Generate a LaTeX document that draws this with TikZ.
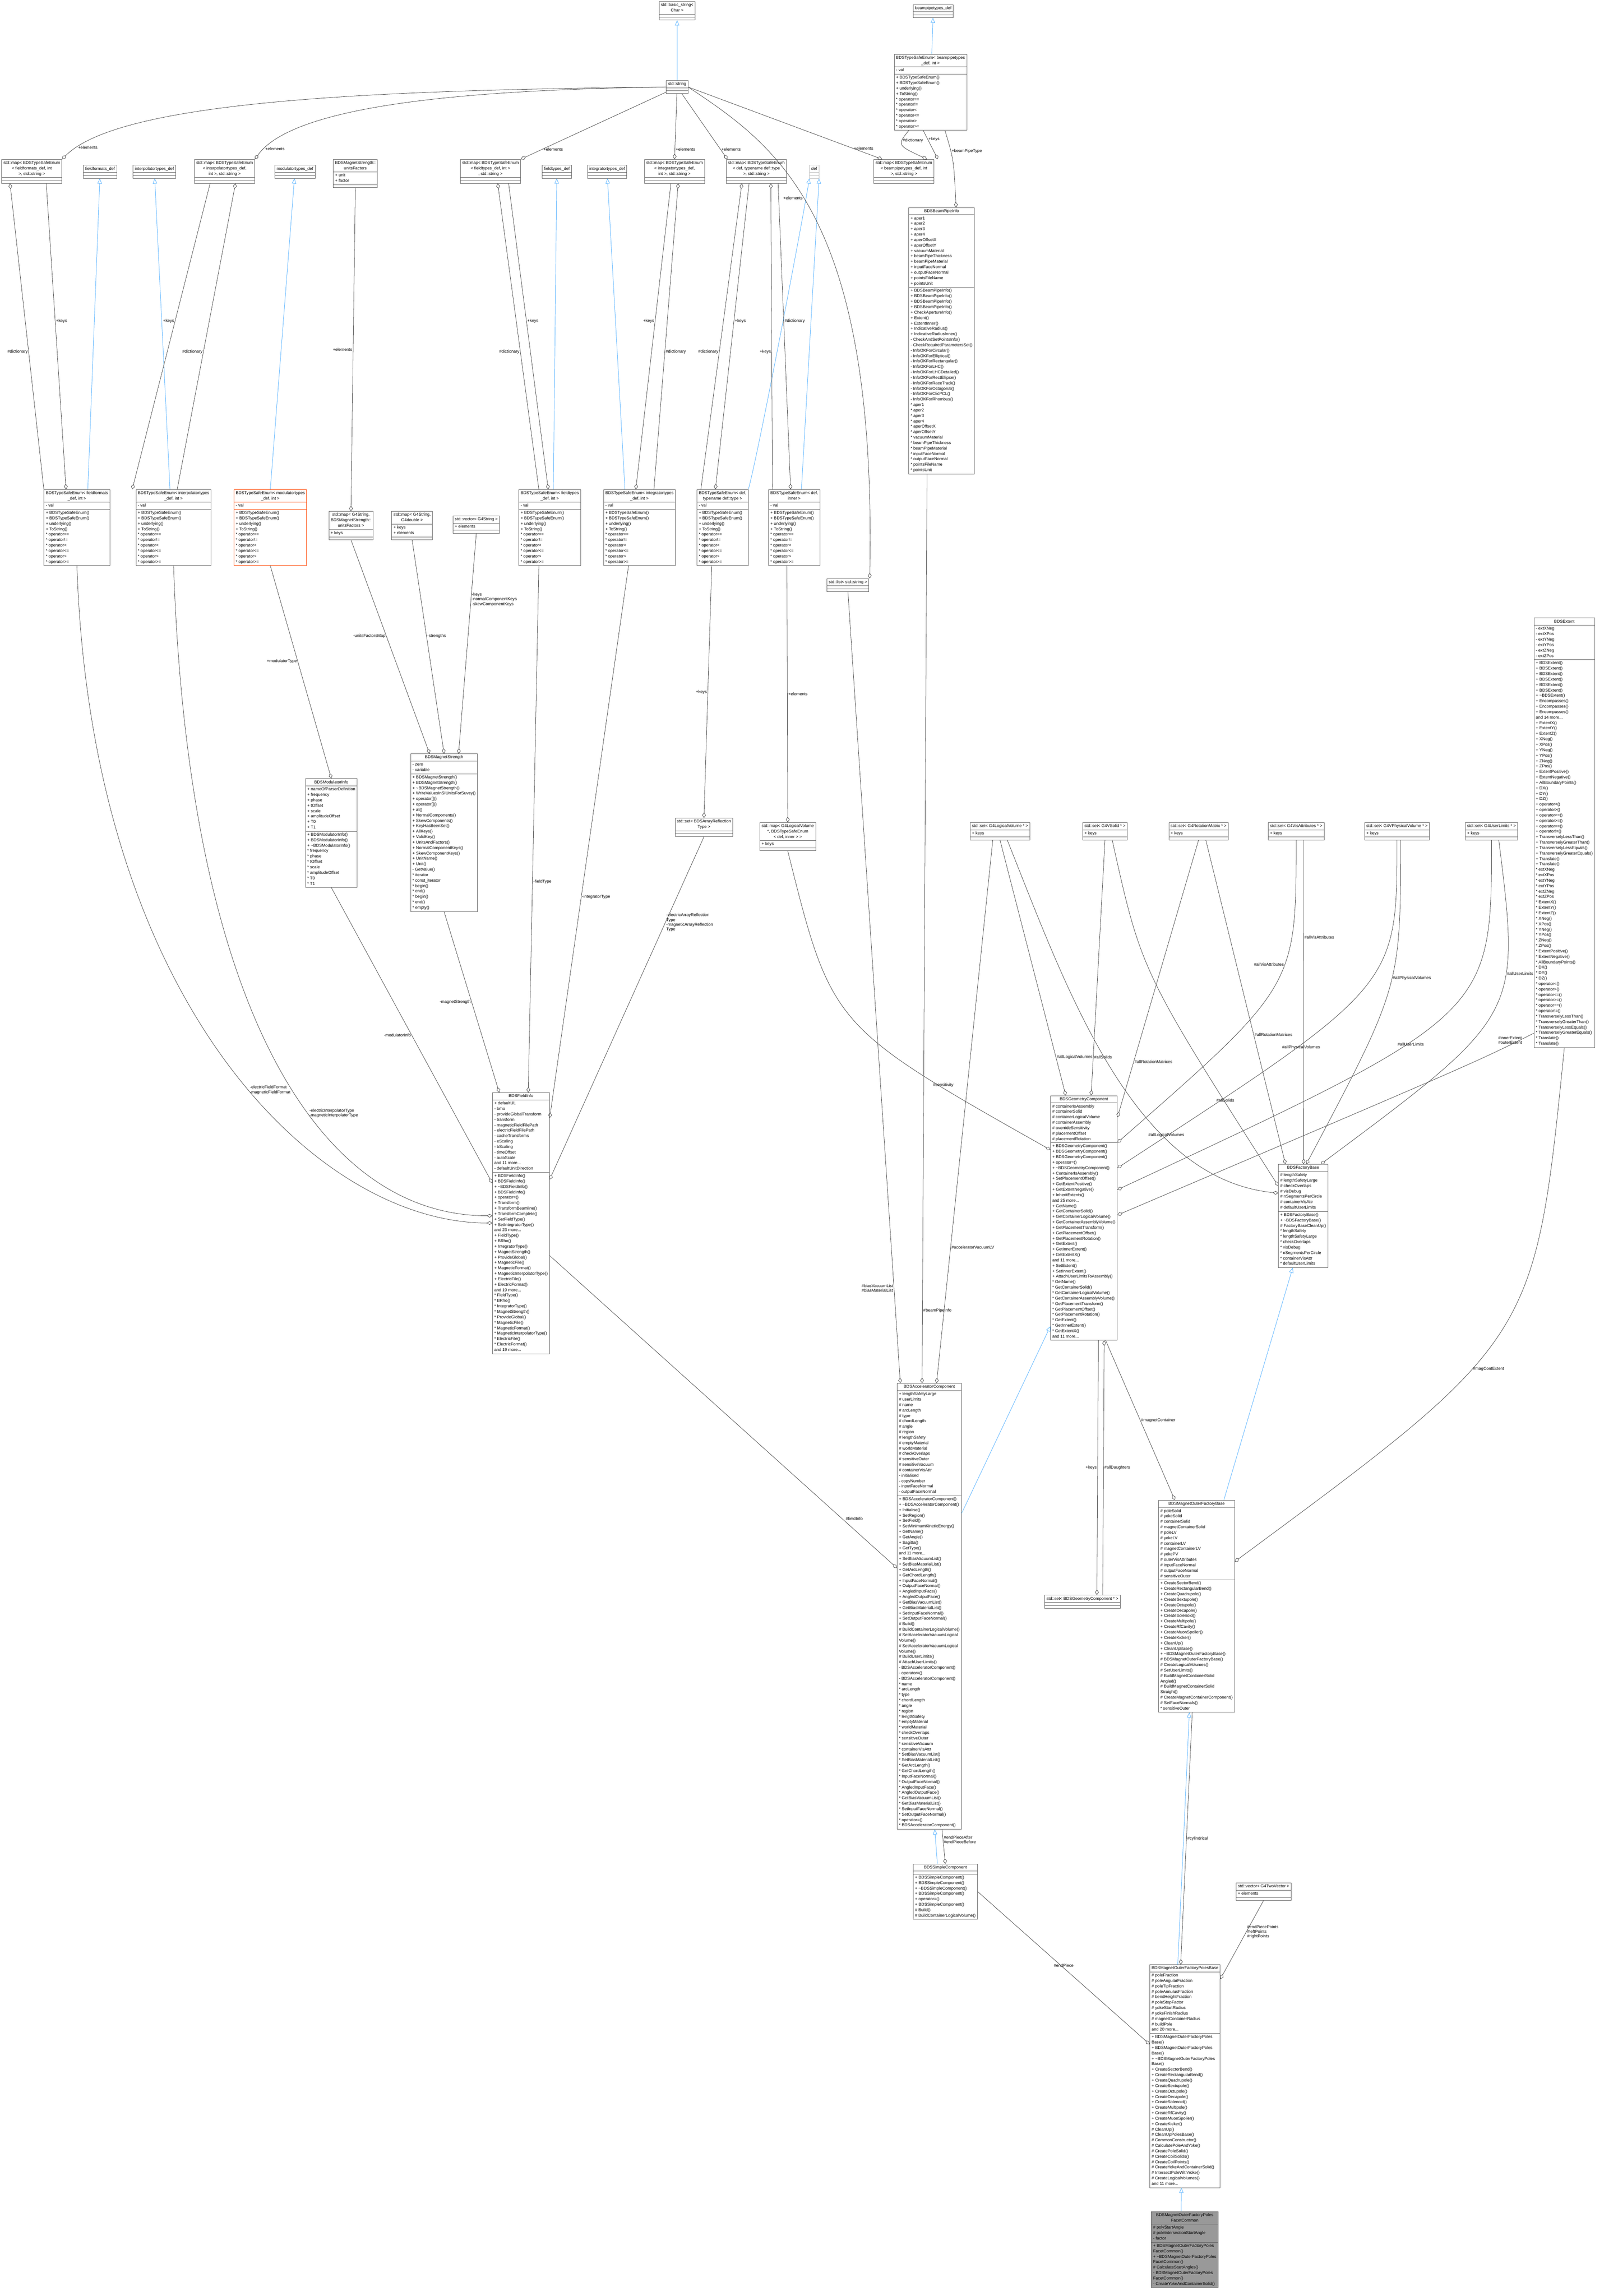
\documentclass[tikz,border=0pt]{standalone}
\usepackage{fontspec}
\setmainfont{Liberation Sans}
\usetikzlibrary{shapes.multipart,arrows.meta}
\definecolor{edgec}{HTML}{404040}
\definecolor{blu}{HTML}{63B8FF}
\definecolor{bord}{HTML}{666666}
\definecolor{redb}{HTML}{FF4500}
\definecolor{grayf}{HTML}{999999}
\definecolor{lgray}{HTML}{BFBFBF}
\newcommand\ctab[1]{\begin{tabular}{@{}c@{}}#1\end{tabular}}
\newcommand\ltab[1]{\begin{tabular}{@{}l@{}}#1\end{tabular}}
\newcommand\tld{\textasciitilde}
\newcommand\sx{\relax*}
\newcommand\tsem{+ BDSTypeSafeEnum()\\+ BDSTypeSafeEnum()\\+ underlying()\\+ ToString()\\\sx{} operator==\\\sx{} operator!=\\\sx{} operator<\\\sx{} operator<=\\\sx{} operator>\\\sx{} operator>=}
\tikzset{
 umlcls/.style={draw=bord, line width=1pt, fill=white, rectangle split, rectangle split parts=3,
   rectangle split part align={center,left,left}, inner xsep=5pt, inner ysep=2pt,
   font=\fontsize{11.5}{15}\selectfont},
 agg/.style={draw=edgec, line width=1pt, -{Diamond[open,length=15pt,width=10pt]}},
 inh/.style={draw=blu, line width=1.2pt, -{Triangle[open,length=14pt,width=12pt]}},
 lbl/.style={font=\fontsize{11.5}{13}\selectfont, align=left, inner sep=2pt, text=black}
}
\newcommand\umlbox[6][]{\node[umlcls,anchor=north west,#1] (#2) at (#3) {\ctab{#4}\nodepart{two}\ltab{#5}\nodepart{three}\ltab{#6}};}
\begin{document}
\begin{tikzpicture}[x=4.03pt,y=-4.03pt]
\useasboundingbox[fill=white] (0,0) rectangle (1107.44,1571.96);
% ---------- top
\umlbox{bstr}{451,1}{std::basic\_string\textless\\Char \textgreater}{}{}
\umlbox{str}{456,55}{std::string}{}{}
\umlbox{bptdef}{625,3}{beampipetypes\_def}{}{}
\umlbox{tseBP}{612,37}{BDSTypeSafeEnum< beampipetypes\\\_def, int >}{- val}{\tsem}
\umlbox{mapBP}{598,109}{std::map< BDSTypeSafeEnum\\< beampipetypes\_def, int\\ >, std::string >}{}{}
\umlbox{bpi}{622,142}{BDSBeamPipeInfo}{+ aper1\\+ aper2\\+ aper3\\+ aper4\\+ aperOffsetX\\+ aperOffsetY\\+ vacuumMaterial\\+ beamPipeThickness\\+ beamPipeMaterial\\+ inputFaceNormal\\+ outputFaceNormal\\+ pointsFileName\\+ pointsUnit}{+ BDSBeamPipeInfo()\\+ BDSBeamPipeInfo()\\+ BDSBeamPipeInfo()\\+ BDSBeamPipeInfo()\\+ CheckApertureInfo()\\+ Extent()\\+ ExtentInner()\\+ IndicativeRadius()\\+ IndicativeRadiusInner()\\- CheckAndSetPointsInfo()\\- CheckRequiredParametersSet()\\- InfoOKForCircular()\\- InfoOKForElliptical()\\- InfoOKForRectangular()\\- InfoOKForLHC()\\- InfoOKForLHCDetailed()\\- InfoOKForRectEllipse()\\- InfoOKForRaceTrack()\\- InfoOKForOctagonal()\\- InfoOKForClicPCL()\\- InfoOKForRhombus()\\\sx{} aper1\\\sx{} aper2\\\sx{} aper3\\\sx{} aper4\\\sx{} aperOffsetX\\\sx{} aperOffsetY\\\sx{} vacuumMaterial\\\sx{} beamPipeThickness\\\sx{} beamPipeMaterial\\\sx{} inputFaceNormal\\\sx{} outputFaceNormal\\\sx{} pointsFileName\\\sx{} pointsUnit}
% ---------- row 2
\umlbox{mapFF}{1,109}{std::map< BDSTypeSafeEnum\\< fieldformats\_def, int\\ >, std::string >}{}{}
\umlbox{ffdef}{57,113}{fieldformats\_def}{}{}
\umlbox{itdef}{91,113}{interpolatortypes\_def}{}{}
\umlbox{mapIT}{133,109}{std::map< BDSTypeSafeEnum\\< interpolatortypes\_def,\\ int >, std::string >}{}{}
\umlbox{mtdef}{188,113}{modulatortypes\_def}{}{}
\umlbox{uf}{228,109}{BDSMagnetStrength::\\unitsFactors}{+ unit\\+ factor}{}
\umlbox{mapFT}{315,109}{std::map< BDSTypeSafeEnum\\< fieldtypes\_def, int >\\, std::string >}{}{}
\umlbox{ftdef}{371,113}{fieldtypes\_def}{}{}
\umlbox{intdef}{402,113}{integratortypes\_def}{}{}
\umlbox{mapINT}{441,109}{std::map< BDSTypeSafeEnum\\< integratortypes\_def,\\ int >, std::string >}{}{}
\umlbox{mapDEF}{497,109}{std::map< BDSTypeSafeEnum\\< def, typename def::type\\ >, std::string >}{}{}
\umlbox[draw=lgray]{def}{554,113}{def}{}{}
% ---------- row 3
\umlbox{tseFF}{30,335}{BDSTypeSafeEnum< fieldformats\\\_def, int >}{- val}{\tsem}
\umlbox{tseIT}{93,335}{BDSTypeSafeEnum< interpolatortypes\\\_def, int >}{- val}{\tsem}
\umlbox[draw=redb]{tseMT}{160,335}{BDSTypeSafeEnum< modulatortypes\\\_def, int >}{- val}{\tsem}
\umlbox{mapUF}{225,350}{std::map< G4String,\\ BDSMagnetStrength::\\unitsFactors >}{+ keys}{}
\umlbox{mapGD}{268,350}{std::map< G4String,\\ G4double >}{+ keys\\+ elements}{}
\umlbox{vecS}{310,353}{std::vector< G4String >}{+ elements}{}
\umlbox{tseFT}{355,335}{BDSTypeSafeEnum< fieldtypes\\\_def, int >}{- val}{\tsem}
\umlbox{tseINT}{413,335}{BDSTypeSafeEnum< integratortypes\\\_def, int >}{- val}{\tsem}
\umlbox{tseDEF}{477,335}{BDSTypeSafeEnum< def,\\ typename def::type >}{- val}{\tsem}
\umlbox{tseIN}{526,335}{BDSTypeSafeEnum< def,\\ inner >}{- val}{\tsem}
\umlbox{listS}{566,396}{std::list< std::string >}{}{}
% ---------- row 4
\umlbox{modinfo}{209,533}{BDSModulatorInfo}{+ nameOfParserDefinition\\+ frequency\\+ phase\\+ tOffset\\+ scale\\+ amplitudeOffset\\+ T0\\+ T1}{+ BDSModulatorInfo()\\+ BDSModulatorInfo()\\+ \tld BDSModulatorInfo()\\\sx{} frequency\\\sx{} phase\\\sx{} tOffset\\\sx{} scale\\\sx{} amplitudeOffset\\\sx{} T0\\\sx{} T1}
\umlbox{magstr}{281,516}{BDSMagnetStrength}{- zero\\- variable}{+ BDSMagnetStrength()\\+ BDSMagnetStrength()\\+ \tld BDSMagnetStrength()\\+ WriteValuesInSIUnitsForSuvey()\\+ operator[]()\\+ operator[]()\\+ at()\\+ NormalComponents()\\+ SkewComponents()\\+ KeyHasBeenSet()\\+ AllKeys()\\+ ValidKey()\\+ UnitsAndFactors()\\+ NormalComponentKeys()\\+ SkewComponentKeys()\\+ UnitName()\\+ Unit()\\- GetValue()\\\sx{} iterator\\\sx{} const\_iterator\\\sx{} begin()\\\sx{} end()\\\sx{} begin()\\\sx{} end()\\\sx{} empty()}
\umlbox{setART}{462,560}{std::set< BDSArrayReflection\\Type >}{}{}
\umlbox{mapLV}{520,563}{std::map< G4LogicalVolume\\ \sx, BDSTypeSafeEnum\\< def, inner > >}{+ keys}{}
\umlbox{fieldinfo}{337,748}{BDSFieldInfo}{+ defaultUL\\- brho\\- provideGlobalTransform\\- transform\\- magneticFieldFilePath\\- electricFieldFilePath\\- cacheTransforms\\- eScaling\\- bScaling\\- timeOffset\\- autoScale\\and 11 more...\\- defaultUnitDirection}{+ BDSFieldInfo()\\+ BDSFieldInfo()\\+ \tld BDSFieldInfo()\\+ BDSFieldInfo()\\+ operator=()\\+ Transform()\\+ TransformBeamline()\\+ TransformComplete()\\+ SetFieldType()\\+ SetIntegratorType()\\and 23 more...\\+ FieldType()\\+ BRho()\\+ IntegratorType()\\+ MagnetStrength()\\+ ProvideGlobal()\\+ MagneticFile()\\+ MagneticFormat()\\+ MagneticInterpolatorType()\\+ ElectricFile()\\+ ElectricFormat()\\and 19 more...\\\sx{} FieldType()\\\sx{} BRho()\\\sx{} IntegratorType()\\\sx{} MagnetStrength()\\\sx{} ProvideGlobal()\\\sx{} MagneticFile()\\\sx{} MagneticFormat()\\\sx{} MagneticInterpolatorType()\\\sx{} ElectricFile()\\\sx{} ElectricFormat()\\and 19 more...}
% ---------- sets
\umlbox{setLV}{664,563}{std::set< G4LogicalVolume \sx{} >}{+ keys}{}
\umlbox{setSolid}{741,563}{std::set< G4VSolid \sx{} >}{+ keys}{}
\umlbox{setRot}{800,563}{std::set< G4RotationMatrix \sx{} >}{+ keys}{}
\umlbox{setVis}{868,563}{std::set< G4VisAttributes \sx{} >}{+ keys}{}
\umlbox{setPV}{934,563}{std::set< G4VPhysicalVolume \sx{} >}{+ keys}{}
\umlbox{setUL}{1003,563}{std::set< G4UserLimits \sx{} >}{+ keys}{}
\umlbox{ext}{1050,423}{BDSExtent}{- extXNeg\\- extXPos\\- extYNeg\\- extYPos\\- extZNeg\\- extZPos}{+ BDSExtent()\\+ BDSExtent()\\+ BDSExtent()\\+ BDSExtent()\\+ BDSExtent()\\+ BDSExtent()\\+ \tld BDSExtent()\\+ Encompasses()\\+ Encompasses()\\+ Encompasses()\\and 14 more...\\+ ExtentX()\\+ ExtentY()\\+ ExtentZ()\\+ XNeg()\\+ XPos()\\+ YNeg()\\+ YPos()\\+ ZNeg()\\+ ZPos()\\+ ExtentPositive()\\+ ExtentNegative()\\+ AllBoundaryPoints()\\+ DX()\\+ DY()\\+ DZ()\\+ operator<()\\+ operator>()\\+ operator<=()\\+ operator>=()\\+ operator==()\\+ operator!=()\\+ TransverselyLessThan()\\+ TransverselyGreaterThan()\\+ TransverselyLessEquals()\\+ TransverselyGreaterEquals()\\+ Translate()\\+ Translate()\\\sx{} extXNeg\\\sx{} extXPos\\\sx{} extYNeg\\\sx{} extYPos\\\sx{} extZNeg\\\sx{} extZPos\\\sx{} ExtentX()\\\sx{} ExtentY()\\\sx{} ExtentZ()\\\sx{} XNeg()\\\sx{} XPos()\\\sx{} YNeg()\\\sx{} YPos()\\\sx{} ZNeg()\\\sx{} ZPos()\\\sx{} ExtentPositive()\\\sx{} ExtentNegative()\\\sx{} AllBoundaryPoints()\\\sx{} DX()\\\sx{} DY()\\\sx{} DZ()\\\sx{} operator<()\\\sx{} operator>()\\\sx{} operator<=()\\\sx{} operator>=()\\\sx{} operator==()\\\sx{} operator!=()\\\sx{} TransverselyLessThan()\\\sx{} TransverselyGreaterThan()\\\sx{} TransverselyLessEquals()\\\sx{} TransverselyGreaterEquals()\\\sx{} Translate()\\\sx{} Translate()}
% ---------- geometry
\umlbox{geom}{719,750}{BDSGeometryComponent}{\# containerIsAssembly\\\# containerSolid\\\# containerLogicalVolume\\\# containerAssembly\\\# overrideSensitivity\\\# placementOffset\\\# placementRotation}{+ BDSGeometryComponent()\\+ BDSGeometryComponent()\\+ BDSGeometryComponent()\\+ operator=()\\+ \tld BDSGeometryComponent()\\+ ContainerIsAssembly()\\+ SetPlacementOffset()\\+ GetExtentPositive()\\+ GetExtentNegative()\\+ InheritExtents()\\and 25 more...\\+ GetName()\\+ GetContainerSolid()\\+ GetContainerLogicalVolume()\\+ GetContainerAssemblyVolume()\\+ GetPlacementTransform()\\+ GetPlacementOffset()\\+ GetPlacementRotation()\\+ GetExtent()\\+ GetInnerExtent()\\+ GetExtentX()\\and 11 more...\\+ SetExtent()\\+ SetInnerExtent()\\+ AttachUserLimitsToAssembly()\\\sx{} GetName()\\\sx{} GetContainerSolid()\\\sx{} GetContainerLogicalVolume()\\\sx{} GetContainerAssemblyVolume()\\\sx{} GetPlacementTransform()\\\sx{} GetPlacementOffset()\\\sx{} GetPlacementRotation()\\\sx{} GetExtent()\\\sx{} GetInnerExtent()\\\sx{} GetExtentX()\\and 11 more...}
\umlbox{fbase}{875,797}{BDSFactoryBase}{\# lengthSafety\\\# lengthSafetyLarge\\\# checkOverlaps\\\# visDebug\\\# nSegmentsPerCircle\\\# containerVisAttr\\\# defaultUserLimits}{+ BDSFactoryBase()\\+ \tld BDSFactoryBase()\\\# FactoryBaseCleanUp()\\\sx{} lengthSafety\\\sx{} lengthSafetyLarge\\\sx{} checkOverlaps\\\sx{} visDebug\\\sx{} nSegmentsPerCircle\\\sx{} containerVisAttr\\\sx{} defaultUserLimits}
\umlbox{acc}{614,947}{BDSAcceleratorComponent}{+ lengthSafetyLarge\\\# userLimits\\\# name\\\# arcLength\\\# type\\\# chordLength\\\# angle\\\# region\\\# lengthSafety\\\# emptyMaterial\\\# worldMaterial\\\# checkOverlaps\\\# sensitiveOuter\\\# sensitiveVacuum\\\# containerVisAttr\\- initialised\\- copyNumber\\- inputFaceNormal\\- outputFaceNormal}{+ BDSAcceleratorComponent()\\+ \tld BDSAcceleratorComponent()\\+ Initialise()\\+ SetRegion()\\+ SetField()\\+ SetMinimumKineticEnergy()\\+ GetName()\\+ GetAngle()\\+ Sagitta()\\+ GetType()\\and 11 more...\\+ SetBiasVacuumList()\\+ SetBiasMaterialList()\\+ GetArcLength()\\+ GetChordLength()\\+ InputFaceNormal()\\+ OutputFaceNormal()\\+ AngledInputFace()\\+ AngledOutputFace()\\+ GetBiasVacuumList()\\+ GetBiasMaterialList()\\+ SetInputFaceNormal()\\+ SetOutputFaceNormal()\\\# Build()\\\# BuildContainerLogicalVolume()\\\# SetAcceleratorVacuumLogical\\Volume()\\\# SetAcceleratorVacuumLogical\\Volume()\\\# BuildUserLimits()\\\# AttachUserLimits()\\- BDSAcceleratorComponent()\\- operator=()\\- BDSAcceleratorComponent()\\\sx{} name\\\sx{} arcLength\\\sx{} type\\\sx{} chordLength\\\sx{} angle\\\sx{} region\\\sx{} lengthSafety\\\sx{} emptyMaterial\\\sx{} worldMaterial\\\sx{} checkOverlaps\\\sx{} sensitiveOuter\\\sx{} sensitiveVacuum\\\sx{} containerVisAttr\\\sx{} SetBiasVacuumList()\\\sx{} SetBiasMaterialList()\\\sx{} GetArcLength()\\\sx{} GetChordLength()\\\sx{} InputFaceNormal()\\\sx{} OutputFaceNormal()\\\sx{} AngledInputFace()\\\sx{} AngledOutputFace()\\\sx{} GetBiasVacuumList()\\\sx{} GetBiasMaterialList()\\\sx{} SetInputFaceNormal()\\\sx{} SetOutputFaceNormal()\\\sx{} operator=()\\\sx{} BDSAcceleratorComponent()}
\umlbox{setGC}{715,1092}{std::set< BDSGeometryComponent \sx{} >}{}{}
\umlbox{mofb}{793,1027}{BDSMagnetOuterFactoryBase}{\# poleSolid\\\# yokeSolid\\\# containerSolid\\\# magnetContainerSolid\\\# poleLV\\\# yokeLV\\\# containerLV\\\# magnetContainerLV\\\# yokePV\\\# outerVisAttributes\\\# inputFaceNormal\\\# outputFaceNormal\\\# sensitiveOuter}{+ CreateSectorBend()\\+ CreateRectangularBend()\\+ CreateQuadrupole()\\+ CreateSextupole()\\+ CreateOctupole()\\+ CreateDecapole()\\+ CreateSolenoid()\\+ CreateMultipole()\\+ CreateRfCavity()\\+ CreateMuonSpoiler()\\+ CreateKicker()\\+ CleanUp()\\+ CleanUpBase()\\+ \tld BDSMagnetOuterFactoryBase()\\\# BDSMagnetOuterFactoryBase()\\\# CreateLogicalVolumes()\\\# SetUserLimits()\\\# BuildMagnetContainerSolid\\Angled()\\\# BuildMagnetContainerSolid\\Straight()\\\# CreateMagnetContainerComponent()\\\# SetFaceNormals()\\\sx{} sensitiveOuter}
\umlbox{simple}{625,1276}{BDSSimpleComponent}{}{+ BDSSimpleComponent()\\+ BDSSimpleComponent()\\+ \tld BDSSimpleComponent()\\+ BDSSimpleComponent()\\+ operator=()\\+ BDSSimpleComponent()\\\# Build()\\\# BuildContainerLogicalVolume()}
\umlbox{vec2}{846,1289}{std::vector< G4TwoVector >}{+ elements}{}
\umlbox{poles}{787,1345}{BDSMagnetOuterFactoryPolesBase}{\# poleFraction\\\# poleAngularFraction\\\# poleTipFraction\\\# poleAnnulusFraction\\\# bendHeightFraction\\\# poleStopFactor\\\# yokeStartRadius\\\# yokeFinishRadius\\\# magnetContainerRadius\\\# buildPole\\and 20 more...}{+ BDSMagnetOuterFactoryPoles\\Base()\\+ BDSMagnetOuterFactoryPoles\\Base()\\+ \tld BDSMagnetOuterFactoryPoles\\Base()\\+ CreateSectorBend()\\+ CreateRectangularBend()\\+ CreateQuadrupole()\\+ CreateSextupole()\\+ CreateOctupole()\\+ CreateDecapole()\\+ CreateSolenoid()\\+ CreateMultipole()\\+ CreateRfCavity()\\+ CreateMuonSpoiler()\\+ CreateKicker()\\\# CleanUp()\\\# CleanUpPolesBase()\\\# CommonConstructor()\\\# CalculatePoleAndYoke()\\\# CreatePoleSolid()\\\# CreateCoilSolids()\\\# CreateCoilPoints()\\\# CreateYokeAndContainerSolid()\\\# IntersectPoleWithYoke()\\\# CreateLogicalVolumes()\\and 11 more...}
\umlbox[fill=grayf,draw=bord]{facet}{788,1514}{BDSMagnetOuterFactoryPoles\\FacetCommon}{\# polyStartAngle\\\# poleIntersectionStartAngle\\- factor}{+ BDSMagnetOuterFactoryPoles\\FacetCommon()\\+ \tld BDSMagnetOuterFactoryPoles\\FacetCommon()\\\# CalculateStartAngles()\\- BDSMagnetOuterFactoryPoles\\FacetCommon()\\- CreateYokeAndContainerSolid()}
% ================= connectors: inheritance
\draw[inh] (str) -- (bstr);
\draw[inh] (tseBP) -- (bptdef);
\draw[inh] ([xshift=30pt]tseFF.north) -- (ffdef);
\draw[inh] ([xshift=-10pt]tseIT.north) -- (itdef);
\draw[inh] (tseMT.north) -- (mtdef);
\draw[inh] ([xshift=10pt]tseFT.north) -- (ftdef);
\draw[inh] ([xshift=-40pt]tseINT.north) -- (intdef);
\draw[inh] (tseDEF.north east) .. controls +(8,-30) and +(-3,20) .. (def.south west);
\draw[inh] ([xshift=20pt]tseIN.north) -- (def.south east);
\draw[inh] ([yshift=-359pt]acc.north east) -- ([yshift=-637pt]geom.north west);
\draw[inh] ([xshift=-22pt]simple.north) -- ([xshift=15pt]acc.south);
\draw[inh] ([xshift=-30pt]mofb.north east) -- ([xshift=40pt]fbase.south west);
\draw[inh] ([xshift=-20pt]poles.north) -- ([xshift=-20pt]mofb.south);
\draw[inh] ([xshift=-10pt]facet.north) -- ([xshift=-10pt]poles.south);
% ================= aggregation
\draw[agg] (str.west) .. controls +(-200,2) and +(40,-40) .. (mapFF.north east) node[lbl,pos=0.93,right]{+elements};
\draw[agg] (str.west) .. controls +(-150,2) and +(25,-35) .. (mapIT.north east) node[lbl,pos=0.93,right]{+elements};
\draw[agg] (str) -- (mapFT.north east) node[lbl,pos=0.85,right]{+elements};
\draw[agg] (str) -- (mapINT.north) node[lbl,pos=0.85,right]{+elements};
\draw[agg] (str) -- ([xshift=-80pt]mapDEF.north) node[lbl,pos=0.85,right]{+elements};
\draw[agg] (str.east) -- ([xshift=-60pt]mapBP.north) node[lbl,pos=0.85,right]{+elements};
\draw[agg] (str.east) .. controls +(60,40) and +(5,-250) .. ([xshift=60pt]listS.north) node[lbl,pos=0.45,left]{+elements};
% dictionaries / keys
\draw[agg] (tseFF.north west) -- ([xshift=-60pt]mapFF.south) node[lbl,pos=0.45,left]{\#dictionary};
\draw[agg] ([xshift=40pt]mapFF.south) -- ([xshift=-30pt]tseFF.north) node[lbl,pos=0.45,right]{+keys};
\draw[agg] ([xshift=10pt]tseIT.north) -- ([xshift=30pt]mapIT.south) node[lbl,pos=0.45,left]{\#dictionary};
\draw[agg] ([xshift=-40pt]mapIT.south) -- ([xshift=-10pt]tseIT.north west) node[lbl,pos=0.45,left]{+keys};
\draw[agg] ([xshift=-30pt]tseFT.north) -- ([xshift=20pt]mapFT.south) node[lbl,pos=0.45,left]{\#dictionary};
\draw[agg] ([xshift=50pt]mapFT.south) -- ([xshift=-90pt]tseFT.north east) node[lbl,pos=0.45,right]{+keys};
\draw[agg] ([xshift=40pt]tseINT.north) -- ([xshift=10pt]mapINT.south) node[lbl,pos=0.45,right]{\#dictionary};
\draw[agg] ([xshift=-10pt]mapINT.south) -- ([xshift=-10pt]tseINT.north) node[lbl,pos=0.45,left]{+keys};
\draw[agg] ([xshift=-60pt]tseDEF.north) -- ([xshift=-40pt]mapDEF.south) node[lbl,pos=0.45,left]{\#dictionary};
\draw[agg] ([xshift=-20pt]mapDEF.south) -- ([xshift=-20pt]tseDEF.north) node[lbl,pos=0.45,right]{+keys};
\draw[agg] ([xshift=-60pt]tseIN.north) -- ([xshift=40pt]mapDEF.south) node[lbl,pos=0.45,left]{+keys};
\draw[agg] ([xshift=60pt]mapDEF.south) -- ([xshift=-10pt]tseIN.north) node[lbl,pos=0.45,right]{\#dictionary};
\draw[agg] ([xshift=-60pt]tseBP.south) .. controls +(-8,10) .. ([xshift=-20pt]mapBP.north east) node[lbl,pos=0.3,right]{\#dictionary};
\draw[agg] ([xshift=-20pt]tseBP.south) -- ([xshift=10pt]mapBP.north east) node[lbl,pos=0.3,right]{+keys};
\draw[agg] ([xshift=40pt]tseBP.south) .. controls +(6,20) .. ([xshift=40pt]bpi.north) node[lbl,pos=0.3,right]{+beamPipeType};
% row 3 -> row 4
\draw[agg] (tseMT.south) -- (modinfo.north) node[lbl,pos=0.45,left]{+modulatorType};
\draw[agg] (mapUF.south) -- ([xshift=-40pt]magstr.north) node[lbl,pos=0.45,left]{-unitsFactorsMap};
\draw[agg] (mapGD.south) -- (magstr.north) node[lbl,pos=0.45,right]{-strengths};
\draw[agg] (vecS.south) -- ([xshift=40pt]magstr.north) node[lbl,pos=0.3,right]{-keys\\-normalComponentKeys\\-skewComponentKeys};
\draw[agg] (uf.south) -- (mapUF.north) node[lbl,pos=0.5,left]{+elements};
\draw[agg] ([xshift=-30pt]tseDEF.south) -- (setART.north) node[lbl,pos=0.5,left]{+keys};
\draw[agg] ([xshift=-20pt]tseIN.south) -- (mapLV.north) node[lbl,pos=0.5,right]{+elements};
% into BDSFieldInfo
\draw[agg] (tseFF.south) .. controls +(10,300) and +(-120,0) .. ([yshift=-360pt]fieldinfo.north west) node[lbl,pos=0.55,right]{-electricFieldFormat\\-magneticFieldFormat};
\draw[agg] (tseIT.south) .. controls +(10,300) and +(-120,0) .. ([yshift=-340pt]fieldinfo.north west) node[lbl,pos=0.6,right]{-electricInterpolatorType\\-magneticInterpolatorType};
\draw[agg] (modinfo.south) -- ([yshift=-250pt]fieldinfo.north west) node[lbl,pos=0.5,left]{-modulatorInfo};
\draw[agg] (magstr.south) -- ([xshift=-60pt]fieldinfo.north) node[lbl,pos=0.5,left]{-magnetStrength};
\draw[agg] ([xshift=-30pt]tseFT.south) -- ([xshift=20pt]fieldinfo.north) node[lbl,pos=0.6,right]{-fieldType};
\draw[agg] ([xshift=-30pt]tseINT.south) -- ([yshift=-70pt]fieldinfo.north east) node[lbl,pos=0.6,right]{-integratorType};
\draw[agg] (setART.south) -- ([yshift=-240pt]fieldinfo.north east) node[lbl,pos=0.25,right]{-electricArrayReflection\\Type\\-magneticArrayReflection\\Type};
% into accelerator component
\draw[agg] ([yshift=-450pt]fieldinfo.north east) -- ([yshift=-510pt]acc.north west) node[lbl,pos=0.85,above right]{\#fieldInfo};
\draw[agg] (listS.south) -- ([xshift=-80pt]acc.north) node[lbl,pos=0.88,left]{\#biasVacuumList\\\#biasMaterialList};
\draw[agg] ([xshift=-40pt]bpi.south) -- ([xshift=-20pt]acc.north) node[lbl,pos=0.92,right]{\#beamPipeInfo};
\draw[agg] ([xshift=-20pt]setLV.south) -- ([xshift=20pt]acc.north) node[lbl,pos=0.75,right]{\#acceleratorVacuumLV};
\draw[agg] (mapLV.south) .. controls +(30,120) .. ([yshift=-150pt]geom.north west) node[lbl,pos=0.8,above]{\#sensitivity};
% sets
\draw[agg] (setLV.south) -- ([xshift=-50pt]geom.north) node[lbl,pos=0.85,right]{\#allLogicalVolumes};
\draw[agg] ([xshift=20pt]setLV.south) .. controls +(40,100) and +(-100,-10) .. ([yshift=-80pt]fbase.north west) node[lbl,pos=0.7,above]{\#allLogicalVolumes};
\draw[agg] (setSolid.south) -- ([xshift=20pt]geom.north) node[lbl,pos=0.85,right]{\#allSolids};
\draw[agg] ([xshift=20pt]setSolid.south) .. controls +(20,90) .. ([yshift=-60pt]fbase.north west) node[lbl,pos=0.85,above]{\#allSolids};
\draw[agg] (setRot.south) -- ([yshift=-60pt]geom.north east) node[lbl,pos=0.8,right]{\#allRotationMatrices};
\draw[agg] ([xshift=20pt]setRot.south) -- ([xshift=20pt]fbase.north west) node[lbl,pos=0.6,right]{\#allRotationMatrices};
\draw[agg] (setVis.south) .. controls +(0,100) .. ([yshift=-130pt]geom.north east) node[lbl,pos=0.4,left]{\#allVisAttributes};
\draw[agg] ([xshift=20pt]setVis.south) -- ([xshift=70pt]fbase.north west) node[lbl,pos=0.3,right]{\#allVisAttributes};
\draw[agg] (setPV.south) .. controls +(0,100) .. ([yshift=-200pt]geom.north east) node[lbl,pos=0.7,below]{\#allPhysicalVolumes};
\draw[agg] ([xshift=10pt]setPV.south) .. controls +(0,100) .. ([xshift=-60pt]fbase.north east) node[lbl,pos=0.45,right]{\#allPhysicalVolumes};
\draw[agg] (setUL.south) .. controls +(0,120) .. ([yshift=-260pt]geom.north east) node[lbl,pos=0.6,below]{\#allUserLimits};
\draw[agg] ([xshift=20pt]setUL.south) .. controls +(15,120) .. ([xshift=-20pt]fbase.north east) node[lbl,pos=0.35,right]{\#allUserLimits};
\draw[agg] ([yshift=40pt]ext.south west) .. controls +(-40,20) .. ([yshift=-330pt]geom.north east) node[lbl,pos=0.15,above]{\#innerExtent\\\#outerExtent};
\draw[agg] (ext.south) .. controls +(-20,200) .. ([yshift=-170pt]mofb.north east) node[lbl,pos=0.6,right]{\#magContExtent};
% geometry component relations
\draw[agg] ([xshift=40pt]geom.south) -- ([xshift=40pt]setGC.north) node[lbl,pos=0.5,left]{+keys};
\draw[agg] ([xshift=56pt]setGC.north) -- ([xshift=56pt]geom.south) node[lbl,pos=0.5,right]{\#allDaughters};
\draw[agg] ([xshift=60pt]geom.south) -- ([xshift=-60pt]mofb.north) node[lbl,pos=0.5,right]{\#magnetContainer};
\draw[agg] ([xshift=35pt]acc.south) -- (simple.north) node[lbl,pos=0.3,right]{\#endPieceAfter\\\#endPieceBefore};
\draw[agg] (simple.east) -- ([yshift=-220pt]poles.north west) node[lbl,pos=0.5,above]{\#endPiece};
\draw[agg] ([xshift=-12pt]mofb.south) -- ([xshift=-12pt]poles.north) node[lbl,pos=0.5,right]{\#cylindrical};
\draw[agg] (vec2.south) -- ([yshift=-40pt]poles.north east) node[lbl,pos=0.4,right]{\#endPiecePoints\\\#leftPoints\\\#rightPoints};
\end{tikzpicture}
\end{document}
